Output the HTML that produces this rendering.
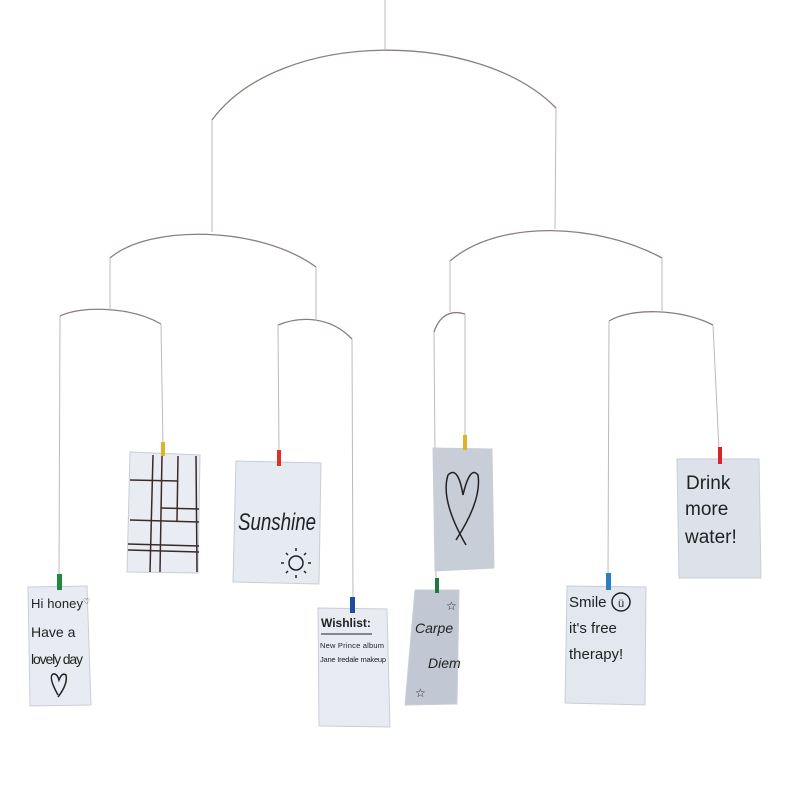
<!DOCTYPE html>
<html><head><meta charset="utf-8"><style>
html,body{margin:0;padding:0;background:#fff;}
svg{display:block;}
text{font-family:"Liberation Sans",sans-serif;fill:#222;}
</style></head><body>
<svg width="793" height="793" viewBox="0 0 793 793" xmlns="http://www.w3.org/2000/svg">
<g fill="none" stroke="#8a7f7a" stroke-width="1.3">
<path d="M212 120 C 280 28, 480 30, 556 108"/>
<path d="M110 258 C 150 224, 260 226, 316 267"/>
<path d="M450 261 C 500 218, 600 224, 662 258"/>
<path d="M60 316 C 80 306, 130 306, 161 324"/>
<path d="M278 325 C 300 316, 330 316, 352 339"/>
<path d="M434 332 C 440 314, 452 310, 465 314"/>
<path d="M609 321 C 630 308, 680 308, 713 325"/>
</g>
<g stroke="#bbb" stroke-width="1">
<line x1="385" y1="0" x2="385" y2="49"/>
<line x1="212" y1="120" x2="212" y2="232"/>
<line x1="556" y1="108" x2="555" y2="229"/>
<line x1="110" y1="258" x2="110" y2="311"/>
<line x1="316" y1="267" x2="316" y2="321"/>
<line x1="450" y1="261" x2="450" y2="312"/>
<line x1="662" y1="258" x2="662" y2="312"/>
<line x1="60" y1="316" x2="59" y2="580"/>
<line x1="161" y1="324" x2="163" y2="447"/>
<line x1="278" y1="325" x2="279" y2="455"/>
<line x1="352" y1="339" x2="353" y2="602"/>
<line x1="434" y1="332" x2="436" y2="580"/>
<line x1="465" y1="314" x2="465" y2="440"/>
<line x1="609" y1="321" x2="608" y2="578"/>
<line x1="713" y1="325" x2="719" y2="450"/>
</g>
<g stroke="#c9ced6" stroke-width="1">
<polygon points="28,587 87,586 91,705 30,706" fill="#e8ecf2"/>
<polygon points="130,452 200,455 198,573 127,572" fill="#e9edf3"/>
<polygon points="236,461 321,463 319,584 233,582" fill="#e6eaf1"/>
<polygon points="318,608 387,609 390,727 319,726" fill="#e8ecf2"/>
<polygon points="433,448 492,449 494,568 435,571" fill="#c8ced8"/>
<polygon points="415,590 459,590 457,704 405,705" fill="#c2c8d3"/>
<polygon points="567,586 646,587 645,705 565,703" fill="#e3e8ef"/>
<polygon points="677,459 759,459 761,578 679,578" fill="#dde2ea"/>
</g>
<g stroke="#3a2a28" stroke-width="1.5">
<line x1="153" y1="455" x2="150" y2="572"/>
<line x1="162" y1="455" x2="160" y2="572"/>
<line x1="178" y1="456" x2="177" y2="522"/>
<line x1="196" y1="456" x2="197" y2="572"/>
<line x1="130" y1="480" x2="178" y2="481"/>
<line x1="161" y1="508" x2="199" y2="509"/>
<line x1="130" y1="520" x2="199" y2="522"/>
<line x1="128" y1="544" x2="199" y2="546"/>
<line x1="128" y1="550" x2="199" y2="552"/>
</g>
<rect x="161" y="442" width="4" height="14" fill="#e2b12a"/>
<rect x="277" y="450" width="4" height="16" fill="#e0302a"/>
<rect x="57" y="574" width="5" height="16" fill="#1f8a3c"/>
<rect x="350" y="597" width="5" height="16" fill="#1e4d9a"/>
<rect x="463" y="435" width="4" height="15" fill="#e2b12a"/>
<rect x="435" y="578" width="4" height="15" fill="#1f7a3a"/>
<rect x="606" y="573" width="5" height="17" fill="#2a7ec4"/>
<rect x="718" y="447" width="4" height="17" fill="#d8252a"/>
<text x="31" y="608" font-size="13" textLength="52">Hi honey</text>
<text x="83" y="604" font-size="8">♡</text>
<text x="31" y="637" font-size="14">Have a</text>
<text x="31" y="664" font-size="14" textLength="52">lovely day</text>
<path d="M58 695 Q 48 677 53 674 Q 57 673 59 680 Q 62 672 66 675 Q 68 684 58 697" fill="none" stroke="#222" stroke-width="1.5"/>
<text x="238" y="530" font-size="24" font-style="italic" textLength="78" lengthAdjust="spacingAndGlyphs">Sunshine</text>
<circle cx="296" cy="563" r="7" fill="none" stroke="#222" stroke-width="1.5"/>
<g stroke="#222" stroke-width="1.5">
<line x1="296" y1="551" x2="296" y2="548"/><line x1="296" y1="575" x2="296" y2="578"/>
<line x1="284" y1="563" x2="281" y2="563"/><line x1="308" y1="563" x2="311" y2="563"/>
<line x1="288" y1="555" x2="286" y2="553"/><line x1="304" y1="571" x2="306" y2="573"/>
<line x1="304" y1="555" x2="306" y2="553"/><line x1="288" y1="571" x2="286" y2="573"/>
</g>
<text x="321" y="627" font-size="12" font-weight="bold">Wishlist:</text>
<line x1="321" y1="634" x2="372" y2="634" stroke="#222"/>
<text x="320" y="648" font-size="7.5" textLength="64">New Prince album</text>
<text x="320" y="662" font-size="7.5" textLength="66">Jane Iredale makeup</text>
<path d="M466 545 Q 440 500 448 475 Q 458 465 463 495 Q 470 465 478 475 Q 482 500 456 540" fill="none" stroke="#222" stroke-width="1.5"/>
<text x="415" y="633" font-size="14" font-style="italic">Carpe</text>
<text x="428" y="668" font-size="14" font-style="italic">Diem</text>
<text x="446" y="610" font-size="12">☆</text>
<text x="415" y="697" font-size="12">☆</text>
<text x="569" y="607" font-size="15">Smile</text>
<circle cx="621" cy="602" r="9" fill="none" stroke="#222" stroke-width="1.5"/>
<text x="621" y="607" font-size="11" text-anchor="middle">ü</text>
<text x="569" y="633" font-size="15">it's free</text>
<text x="569" y="659" font-size="15">therapy!</text>
<text x="686" y="489" font-size="19">Drink</text>
<text x="685" y="515" font-size="19">more</text>
<text x="685" y="543" font-size="19">water!</text>
</svg>
</body></html>
